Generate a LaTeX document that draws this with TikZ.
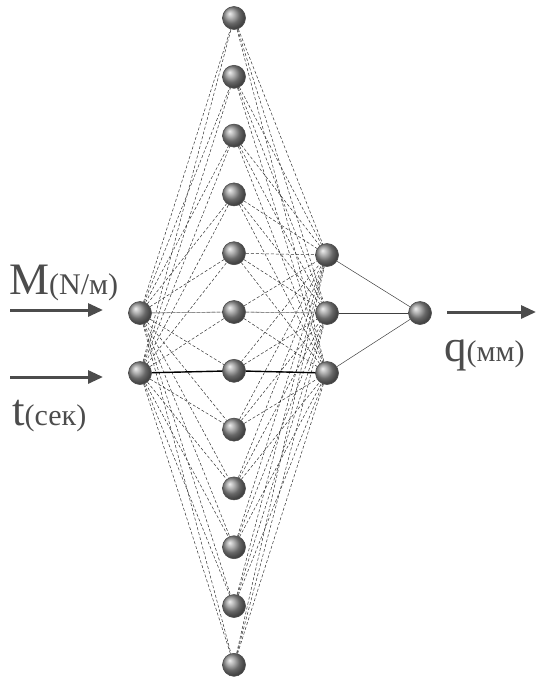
\documentclass[tikz,border=0pt]{standalone}
\usepackage{fontspec}
\setmainfont{Liberation Serif}
\usetikzlibrary{arrows.meta,positioning}

\tikzset{
  neuron/.style={circle, minimum size=23pt, inner sep=0pt, shading=ball,
    ball color=gray!85, draw=black!70, line width=0.6pt},
  link/.style={black!80, line width=0.5pt, densely dashed},
  flow/.style={black!70, line width=3pt, -{Triangle[length=15pt,width=13pt]}},
  lbl/.style={text=black!70, inner sep=0pt, anchor=base west}
}

\begin{document}
\begin{tikzpicture}[x=1pt,y=-1pt]
\useasboundingbox (0,0) rectangle (536,683);
% layers
\node[neuron] (i1) at (140,313) {};
\node[neuron] (i2) at (140,373) {};
\foreach \j in {1,...,12}
  \node[neuron] (h\j) at (234,{18+(\j-1)*58.8}) {};
\node[neuron] (s1) at (327,255) {};
\node[neuron] (s2) at (327,313) {};
\node[neuron] (s3) at (327,373) {};
\node[neuron] (o) at (420,313) {};
% connections
\foreach \i in {1,2}
  \foreach \j in {1,...,12}
    \draw[link] (i\i) -- (h\j);
\foreach \j in {1,...,12}
  \foreach \k in {1,2,3}
    \draw[link] (h\j) -- (s\k);
\foreach \k in {1,2,3}
  \draw[black!75, line width=0.5pt] (s\k) -- (o);
\draw[black!40, line width=0.6pt] (i1) -- (h6) -- (s2);
\draw[black, line width=1.4pt] (i2) -- (h7) -- (s3);
% inputs and output
\coordinate (a1) at (10,310);
\coordinate (e1) at (103,310);
\coordinate (a2) at (10,377);
\coordinate (e2) at (103,377);
\coordinate (b) at (447,312);
\coordinate (c) at (536,312);
\draw[flow] (a1) -- (e1);
\draw[flow] (a2) -- (e2);
\draw[flow] (b) -- (c);
\node[lbl] (mlab) at (9,294) {\fontsize{45}{45}\selectfont M\fontsize{30}{30}\selectfont(N/м)};
\node[lbl] (tlab) at (12,425) {\fontsize{45}{45}\selectfont t\fontsize{30}{30}\selectfont(сек)};
\node[lbl] (qlab) at (444,361) {\fontsize{45}{45}\selectfont q\fontsize{30}{30}\selectfont(мм)};
\end{tikzpicture}
\end{document}
